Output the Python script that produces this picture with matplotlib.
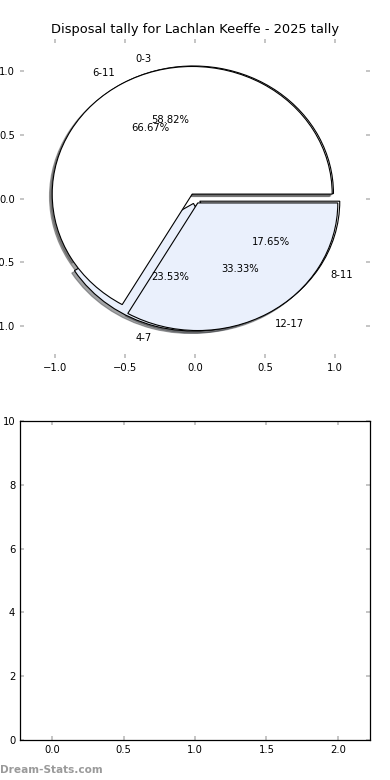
import matplotlib
matplotlib.use("Agg")
import matplotlib.pyplot as plt

# tally data
tally_labels = ["0-3", "4-7", "8-11"]
tally_counts = [10, 4, 3]
range_labels = ["6-11", "12-17"]
range_counts = [2, 1]

player = "Lachlan Keeffe"
season = 2025

white = "#ffffff"
light_blue = "#eaf0fc"
tick_grey = "#bbbbbb"

plt.rcParams["font.family"] = "DejaVu Sans"
plt.rcParams["font.size"] = 7.2

fig = plt.figure(figsize=(3.9, 7.8), dpi=100)
ax_pie = fig.add_axes([0.0513, 0.541, 0.8974, 0.409])
ax_bar = fig.add_axes([0.0513, 0.0513, 0.8974, 0.409])

wedge_style = {"edgecolor": "black", "linewidth": 0.8}
shadow_style = {"ox": -0.014, "oy": -0.014}

ax_pie.pie(
    tally_counts,
    labels=tally_labels,
    autopct="%.2f%%",
    explode=[0.04] * len(tally_counts),
    colors=[white, light_blue, white],
    shadow=shadow_style,
    wedgeprops=wedge_style,
    textprops={"fontsize": 7.2},
)
ax_pie.pie(
    range_counts,
    labels=range_labels,
    autopct="%.2f%%",
    explode=[0.04] * len(range_counts),
    colors=[white, light_blue],
    shadow=shadow_style,
    wedgeprops=wedge_style,
    textprops={"fontsize": 7.2},
)
ax_pie.set_aspect("auto")
ax_pie.set_xlim(-1.25, 1.25)
ax_pie.set_ylim(-1.25, 1.25)
ax_pie.set_xticks([-1.0, -0.5, 0.0, 0.5, 1.0])
ax_pie.set_yticks([-1.0, -0.5, 0.0, 0.5, 1.0])
ax_pie.set_frame_on(False)
ax_pie.set_title(f"Disposal tally for {player} - {season} tally", fontsize=9.4, pad=4)

ax_bar.set_xlim(-0.225, 2.225)
ax_bar.set_ylim(0, 10)
ax_bar.set_xticks([0.0, 0.5, 1.0, 1.5, 2.0])
ax_bar.set_yticks([0, 2, 4, 6, 8, 10])
for side in ax_bar.spines.values():
    side.set_linewidth(0.9)
    side.set_color("black")

for ax in (ax_pie, ax_bar):
    ax.tick_params(direction="in", length=3, width=1.2, color=tick_grey,
                   top=True, right=True, labelsize=7.2, pad=3.5)

fig.text(0.0, 0.006, "Dream-Stats.com", color="#9a9a9a", fontsize=7.6,
         fontweight="bold", ha="left", va="bottom")

fig.savefig("out.png", dpi=100)
